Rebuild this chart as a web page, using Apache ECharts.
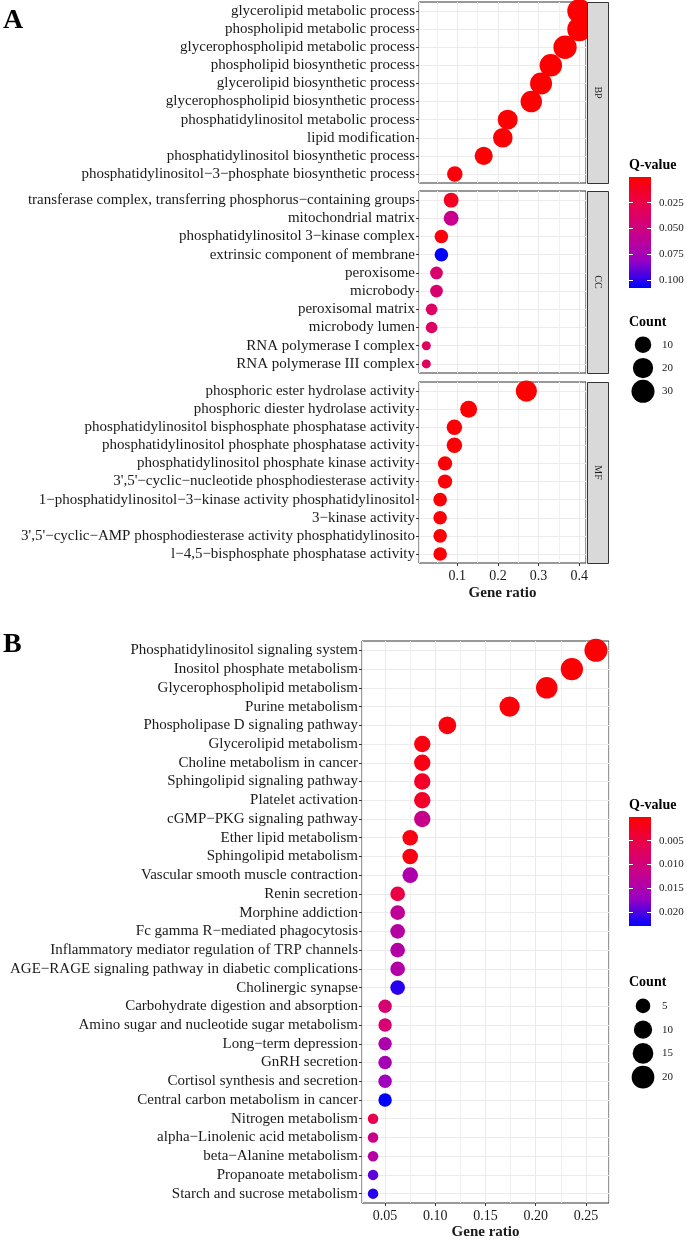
<!DOCTYPE html>
<html>
<head>
<meta charset="utf-8">
<script src="https://cdn.jsdelivr.net/npm/echarts@6/dist/echarts.min.js"></script>
<style>
  html, body { margin: 0; padding: 0; background: #fff; }
  #main { width: 687px; height: 1240px; }
</style>
</head>
<body>
<div id="main"></div>
<script>
// ---- panel A: GO terms, one facet per ontology ----
const termsBP = [
  'glycerolipid metabolic process',
  'phospholipid metabolic process',
  'glycerophospholipid metabolic process',
  'phospholipid biosynthetic process',
  'glycerolipid biosynthetic process',
  'glycerophospholipid biosynthetic process',
  'phosphatidylinositol metabolic process',
  'lipid modification',
  'phosphatidylinositol biosynthetic process',
  'phosphatidylinositol\u22123\u2212phosphate biosynthetic process',
];
const ratioBP = [0.400, 0.400, 0.365, 0.330, 0.306, 0.282, 0.224, 0.212, 0.165, 0.094];
const countBP = [34, 34, 31, 28, 26, 24, 19, 18, 14, 8];
const qBP = [0.0001, 0.0001, 0.0002, 0.0003, 0.0003, 0.0005, 0.0008, 0.002, 0.001, 0.003];

const termsCC = [
  'transferase complex, transferring phosphorus\u2212containing groups',
  'mitochondrial matrix',
  'phosphatidylinositol 3\u2212kinase complex',
  'extrinsic component of membrane',
  'peroxisome',
  'microbody',
  'peroxisomal matrix',
  'microbody lumen',
  'RNA polymerase I complex',
  'RNA polymerase III complex',
];
const ratioCC = [0.085, 0.085, 0.061, 0.061, 0.049, 0.049, 0.037, 0.037, 0.024, 0.024];
const countCC = [7, 7, 5, 5, 4, 4, 3, 3, 2, 2];
const qCC = [0.012, 0.055, 0.004, 0.108, 0.041, 0.041, 0.036, 0.036, 0.033, 0.033];

const termsMF = [
  'phosphoric ester hydrolase activity',
  'phosphoric diester hydrolase activity',
  'phosphatidylinositol bisphosphate phosphatase activity',
  'phosphatidylinositol phosphate phosphatase activity',
  'phosphatidylinositol phosphate kinase activity',
  "3',5'\u2212cyclic\u2212nucleotide phosphodiesterase activity",
  '1\u2212phosphatidylinositol\u22123\u2212kinase activity phosphatidylinositol',
  '3\u2212kinase activity',
  "3',5'\u2212cyclic\u2212AMP phosphodiesterase activity phosphatidylinosito",
  'l\u22124,5\u2212bisphosphate phosphatase activity',
];
const ratioMF = [0.270, 0.128, 0.093, 0.093, 0.070, 0.070, 0.058, 0.058, 0.058, 0.058];
const countMF = [23, 11, 8, 8, 6, 6, 5, 5, 5, 5];
const qMF = [0.0005, 0.001, 0.002, 0.002, 0.003, 0.003, 0.002, 0.002, 0.002, 0.002];

// ---- panel B: KEGG pathways ----
const termsB = [
  'Phosphatidylinositol signaling system',
  'Inositol phosphate metabolism',
  'Glycerophospholipid metabolism',
  'Purine metabolism',
  'Phospholipase D signaling pathway',
  'Glycerolipid metabolism',
  'Choline metabolism in cancer',
  'Sphingolipid signaling pathway',
  'Platelet activation',
  'cGMP\u2212PKG signaling pathway',
  'Ether lipid metabolism',
  'Sphingolipid metabolism',
  'Vascular smooth muscle contraction',
  'Renin secretion',
  'Morphine addiction',
  'Fc gamma R\u2212mediated phagocytosis',
  'Inflammatory mediator regulation of TRP channels',
  'AGE\u2212RAGE signaling pathway in diabetic complications',
  'Cholinergic synapse',
  'Carbohydrate digestion and absorption',
  'Amino sugar and nucleotide sugar metabolism',
  'Long\u2212term depression',
  'GnRH secretion',
  'Cortisol synthesis and secretion',
  'Central carbon metabolism in cancer',
  'Nitrogen metabolism',
  'alpha\u2212Linolenic acid metabolism',
  'beta\u2212Alanine metabolism',
  'Propanoate metabolism',
  'Starch and sucrose metabolism',
];
const ratioB = [0.260, 0.236, 0.211, 0.174, 0.112,
  0.087, 0.087, 0.087, 0.087, 0.087,
  0.075, 0.075, 0.075,
  0.0625, 0.0625, 0.0625, 0.0625, 0.0625, 0.0625,
  0.050, 0.050, 0.050, 0.050, 0.050, 0.050,
  0.038, 0.038, 0.038, 0.038, 0.038];
const countB = [21, 19, 17, 14, 9, 7, 7, 7, 7, 7, 6, 6, 6, 5, 5, 5, 5, 5, 5,
  4, 4, 4, 4, 4, 4, 3, 3, 3, 3, 3];
const qB = [0.0002, 0.0003, 0.0004, 0.0006, 0.0008, 0.0012, 0.0015, 0.003, 0.003, 0.0118,
  0.0012, 0.0014, 0.0150, 0.0050, 0.0128, 0.0140, 0.0142, 0.0142, 0.0215,
  0.0090, 0.0092, 0.0150, 0.0160, 0.0165, 0.0230,
  0.0055, 0.0115, 0.0140, 0.0195, 0.0215];

// legend keys and colorbar tick labels
const countKeysA = [10, 20, 30];
const countKeysB = [5, 10, 15, 20];
const qTicksA = [0.025, 0.050, 0.075, 0.100];
const qTicksB = [0.005, 0.010, 0.015, 0.020];

const FONT = "'Liberation Serif', 'Times New Roman', serif";
const TEXT = '#1a1a1a';
// red -> blue interpolated in Lab, like ggplot's gradient
const qColors = ['#FF0000', '#E8004F', '#CA0089', '#9A00C2', '#0000FF'];

function sizeScale(counts, range) {
  const lo = Math.min(...counts);
  const hi = Math.max(...counts);
  return (c) => range[0] + (range[1] - range[0]) * Math.sqrt(Math.max(0, c - lo) / (hi - lo));
}
const sizeA = sizeScale(countBP.concat(countCC, countMF), [9, 24]);
const sizeB = sizeScale(countB, [10.5, 23]);

const qMaxA = Math.max(...qBP, ...qCC, ...qMF);
const qMaxB = Math.max(...qB);

const rows = (terms, ratio, count, q) => terms.map((t, i) => [ratio[i], t, count[i], q[i]]);

const STRIP_W = 21;
const A = { left: 419, width: 167, min: 0.006, max: 0.4165 };
const facets = [
  { name: 'BP', top: 2, height: 181, data: rows(termsBP, ratioBP, countBP, qBP), terms: termsBP },
  { name: 'CC', top: 191, height: 182, data: rows(termsCC, ratioCC, countCC, qCC), terms: termsCC },
  { name: 'MF', top: 382, height: 181, data: rows(termsMF, ratioMF, countMF, qMF), terms: termsMF },
];
const B = { left: 362, width: 247, top: 641, height: 562, min: 0.027, max: 0.273 };

function panelGrid(g) {
  return {
    left: g.left, top: g.top, width: g.width, height: g.height,
    show: true, backgroundColor: '#fff', borderColor: '#333', borderWidth: 1,
    containLabel: false, outerBoundsMode: 'none',
  };
}
function bareGrid(left, top, width, height) {
  return { left, top, width, height, show: false, containLabel: false, outerBoundsMode: 'none' };
}

function termAxis(gridIndex, terms) {
  return {
    type: 'category', gridIndex, data: terms, inverse: true,
    axisLine: { show: false },
    axisTick: { show: true, length: 3, alignWithLabel: true, lineStyle: { color: '#333' } },
    axisLabel: { interval: 0, margin: 4, fontFamily: FONT, fontSize: 15, color: TEXT },
    splitLine: { show: true, interval: 0, alignWithLabel: true, lineStyle: { color: '#EBEBEB' } },
  };
}

function ratioAxis(gridIndex, p, splitNumber, digits, showLabels, labelSize, nameGap) {
  return {
    type: 'value', gridIndex, min: p.min, max: p.max, splitNumber,
    axisLine: { show: false },
    axisTick: { show: showLabels, length: 3, lineStyle: { color: '#333' } },
    axisLabel: {
      show: showLabels, showMinLabel: false, showMaxLabel: false, margin: 6,
      fontFamily: FONT, fontSize: labelSize, color: TEXT,
      formatter: (v) => v.toFixed(digits),
    },
    splitLine: { show: true, lineStyle: { color: '#EBEBEB' } },
    minorTick: { show: false, splitNumber: 2 },
    minorSplitLine: { show: true, lineStyle: { color: '#F1F1F1' } },
    name: showLabels ? 'Gene ratio' : '',
    nameLocation: 'middle', nameGap,
    nameTextStyle: { fontFamily: FONT, fontSize: 15, fontWeight: 'bold', color: TEXT },
  };
}

function colorbarAxes(gridIndex, max, ticks, digits) {
  const base = {
    type: 'value', gridIndex, min: 0, max, inverse: true, z: 10,
    axisLine: { show: false },
    axisTick: { show: true, inside: true, length: 4, customValues: ticks,
      lineStyle: { color: '#fff', width: 1 } },
    splitLine: { show: false },
  };
  return [
    Object.assign({}, base, {
      position: 'right',
      axisLabel: {
        customValues: ticks, margin: 8,
        fontFamily: FONT, fontSize: 11, color: TEXT,
        formatter: (v) => v.toFixed(digits),
      },
    }),
    Object.assign({}, base, { position: 'left', axisLabel: { show: false } }),
  ];
}

function countKeyAxis(gridIndex, keys) {
  return {
    type: 'category', gridIndex, data: keys.map(String), inverse: true, position: 'right',
    axisLine: { show: false }, axisTick: { show: false }, splitLine: { show: false },
    axisLabel: { margin: 8, fontFamily: FONT, fontSize: 11, color: TEXT },
  };
}

const gradient = new echarts.graphic.LinearGradient(0, 0, 0, 1,
  qColors.map((c, i) => ({ offset: i / (qColors.length - 1), color: c })));

const grids = [
  ...facets.map((f) => panelGrid({ left: A.left, width: A.width, top: f.top, height: f.height })),
  panelGrid(B),
  bareGrid(629, 177, 22, 111),   // 4 colorbar A
  bareGrid(632, 333, 22, 70),    // 5 count keys A
  bareGrid(629, 817, 22, 109),   // 6 colorbar B
  bareGrid(632, 994, 22, 95),    // 7 count keys B
];

const xAxes = [
  ratioAxis(0, A, 4, 1, false, 14, 23),
  ratioAxis(1, A, 4, 1, false, 14, 23),
  ratioAxis(2, A, 4, 1, true, 14, 23),
  ratioAxis(3, B, 5, 2, true, 14, 22),
  { type: 'category', gridIndex: 4, data: [''], show: false },
  { type: 'value', gridIndex: 5, min: 0, max: 1, show: false },
  { type: 'category', gridIndex: 6, data: [''], show: false },
  { type: 'value', gridIndex: 7, min: 0, max: 1, show: false },
];

const yAxes = [
  termAxis(0, termsBP),
  termAxis(1, termsCC),
  termAxis(2, termsMF),
  termAxis(3, termsB),
  ...colorbarAxes(4, qMaxA, qTicksA, 3),   // 4, 5
  countKeyAxis(5, countKeysA),             // 6
  ...colorbarAxes(6, qMaxB, qTicksB, 3),   // 7, 8
  countKeyAxis(7, countKeysB),             // 9
];

const dotSeries = (xi, yi, data, size) => ({
  type: 'scatter', xAxisIndex: xi, yAxisIndex: yi, data,
  encode: { x: 0, y: 1 },
  symbolSize: (d) => size(d[2]),
  itemStyle: { opacity: 1 },
  silent: true,
});

const series = [
  ...facets.map((f, i) => dotSeries(i, i, f.data, sizeA)),
  dotSeries(3, 3, rows(termsB, ratioB, countB, qB), sizeB),
  { type: 'bar', xAxisIndex: 4, yAxisIndex: 4, data: [qMaxA], barWidth: '100%', silent: true,
    itemStyle: { color: gradient } },
  { type: 'scatter', xAxisIndex: 5, yAxisIndex: 6, silent: true,
    data: countKeysA.map((c) => [0.5, String(c), c]),
    symbolSize: (d) => sizeA(d[2]), itemStyle: { color: '#000', opacity: 1 } },
  { type: 'bar', xAxisIndex: 6, yAxisIndex: 7, data: [qMaxB], barWidth: '100%', silent: true,
    itemStyle: { color: gradient } },
  { type: 'scatter', xAxisIndex: 7, yAxisIndex: 9, silent: true,
    data: countKeysB.map((c) => [0.5, String(c), c]),
    symbolSize: (d) => sizeB(d[2]), itemStyle: { color: '#000', opacity: 1 } },
];

const titleStyle = (size) => ({ fontFamily: FONT, fontSize: size, fontWeight: 'bold', color: '#000' });
const titles = [
  { text: 'A', left: 3, top: 7, padding: 0, textStyle: titleStyle(28) },
  { text: 'B', left: 3, top: 631, padding: 0, textStyle: titleStyle(28) },
  { text: 'Q-value', left: 629, top: 158, padding: 0, textStyle: titleStyle(14) },
  { text: 'Count', left: 629, top: 315, padding: 0, textStyle: titleStyle(14) },
  { text: 'Q-value', left: 629, top: 798, padding: 0, textStyle: titleStyle(14) },
  { text: 'Count', left: 629, top: 975, padding: 0, textStyle: titleStyle(14) },
];

// facet strips on the right of panel A
const stripX = A.left + A.width + 1;
const strips = facets.map((f) => ({
  type: 'group',
  children: [
    { type: 'rect', z: 100,
      shape: { x: stripX + 0.5, y: f.top + 0.5, width: STRIP_W, height: f.height },
      style: { fill: '#D9D9D9', stroke: '#333', lineWidth: 1 } },
    { type: 'text', z: 101, x: stripX + STRIP_W / 2 + 0.5, y: f.top + f.height / 2,
      rotation: -Math.PI / 2,
      style: { text: f.name, fill: TEXT, fontFamily: FONT, fontSize: 10,
        align: 'center', verticalAlign: 'middle' } },
  ],
}));

const chart = echarts.init(document.getElementById('main'));
chart.setOption({
  animation: false,
  backgroundColor: '#fff',
  title: titles,
  grid: grids,
  xAxis: xAxes,
  yAxis: yAxes,
  visualMap: [
    { type: 'continuous', show: false, seriesIndex: [0, 1, 2], dimension: 3,
      min: 0, max: qMaxA, inRange: { color: qColors } },
    { type: 'continuous', show: false, seriesIndex: [3], dimension: 3,
      min: 0, max: qMaxB, inRange: { color: qColors } },
  ],
  graphic: strips,
  series,
});
</script>
</body>
</html>
